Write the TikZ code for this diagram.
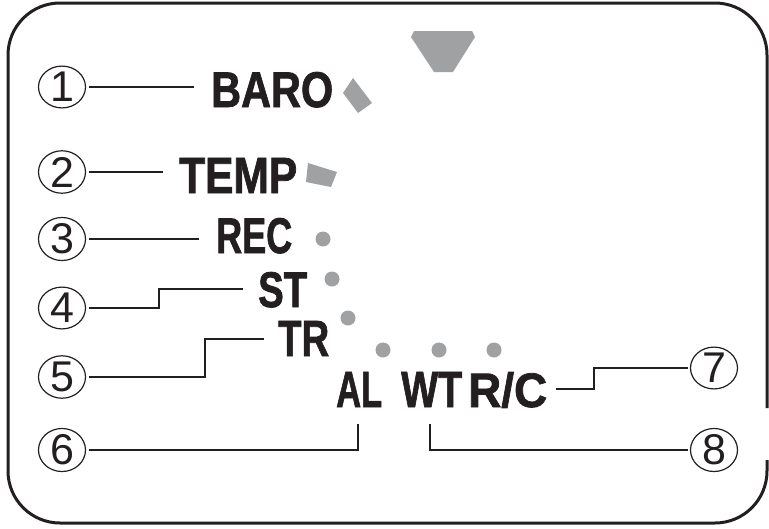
\documentclass[tikz,border=0pt]{standalone}
\usepackage{fontspec}
\usepackage{graphicx}
\setmainfont{Liberation Sans}
\newfontfamily\labfont[FakeBold=1.6]{Liberation Sans Bold}
\usetikzlibrary{shapes.geometric}
\definecolor{ink}{HTML}{231F20}
\definecolor{markgrey}{HTML}{A0A1A3}
\newcommand{\lbl}[2]{\resizebox{#1pt}{35pt}{\labfont #2}}
\begin{document}
\begin{tikzpicture}[x=1pt,y=-1pt,
  circnum/.style={ellipse, draw=ink, line width=1.2pt, minimum width=47pt, minimum height=41pt,
    inner sep=0pt, outer sep=3pt, font=\fontsize{43}{43}\selectfont, text=ink},
  lab/.style={anchor=base west, inner sep=0pt, text=ink},
  leader/.style={draw=ink, line width=1.3pt},
  dot/.style={circle, fill=markgrey, minimum size=15pt, inner sep=0pt}]
\useasboundingbox (0,0) rectangle (769,528);
% border with gap on the right
\draw[ink, line width=3pt, rounded corners=52pt]
  (767,460) -- (767,523) -- (8,523) -- (8,3) -- (767,3) -- (767,408);
% grey markers
\fill[markgrey] (411,37) -- (414,31) -- (472,31) -- (475,37) -- (453,72) -- (434,72) -- cycle;
\fill[markgrey] (353,78) -- (372,103) -- (358,113) -- (343,93) -- cycle;
\fill[markgrey] (308,163) -- (337,172) -- (331,187) -- (306,182) -- cycle;
\node[dot] (d1) at (323,239) {};
\node[dot] (d2) at (332,279) {};
\node[dot] (d3) at (348,318) {};
\node[dot] (d4) at (383,350) {};
\node[dot] (d5) at (439,350) {};
\node[dot] (d6) at (494,350) {};
% labels
\node[lab] (baro) at (211,107) {\lbl{122}{BARO}};
\node[lab] (temp) at (179,193) {\lbl{118}{TEMP}};
\node[lab] (rec)  at (216,253) {\lbl{76}{REC}};
\node[lab] (st)   at (258,307) {\lbl{49}{ST}};
\node[lab] (tr)   at (278,356) {\lbl{51}{TR}};
\node[lab] (al)   at (336,407) {\lbl{46}{AL}};
\node[lab] (wt)   at (401,407) {\lbl{61}{WT}};
\node[lab] (rc)   at (468,407) {\lbl{79}{R/C}};
% circled numbers
\node[circnum] (c1) at (62,87)  {1};
\node[circnum] (c2) at (62,172) {2};
\node[circnum] (c3) at (62,239) {3};
\node[circnum] (c4) at (62,308) {4};
\node[circnum] (c5) at (62,377) {5};
\node[circnum] (c6) at (62,450) {6};
\node[circnum] (c7) at (714,368) {7};
\node[circnum] (c8) at (714,450) {8};
% leader ends
\coordinate (e1) at (194,87);
\coordinate (e2) at (163,172);
\coordinate (e3) at (199,239);
\coordinate (e4) at (243,289);
\coordinate (e5) at (264,339);
\coordinate (e6) at (358,424);
\coordinate (e7) at (556,389);
\coordinate (e8) at (430,424);
\draw[leader] (c1.east) -- (e1);
\draw[leader] (c2.east) -- (e2);
\draw[leader] (c3.east) -- (e3);
\draw[leader] (c4.east) -- (159,308) -- (159,289) -- (e4);
\draw[leader] (c5.east) -- (205,377) -- (205,339) -- (e5);
\draw[leader] (c6.east) -- (358,450) -- (e6);
\draw[leader] (e7) -- (594,389) -- (594,368) -- (c7.west);
\draw[leader] (e8) -- (430,450) -- (c8.west);
\end{tikzpicture}
\end{document}
